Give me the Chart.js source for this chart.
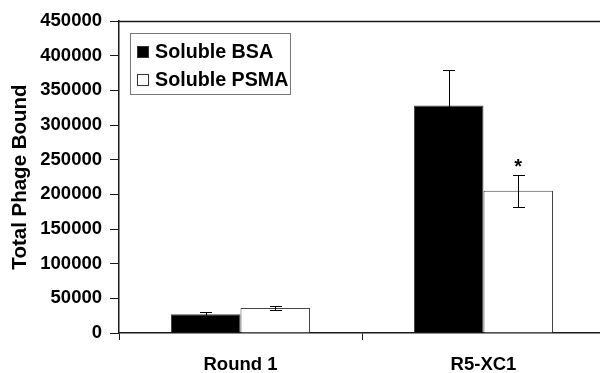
<!DOCTYPE html>
<html>
<head>
<meta charset="utf-8">
<script src="https://cdn.jsdelivr.net/npm/chart.js@4.4.1/dist/chart.umd.min.js"></script>
<style>
html,body{margin:0;padding:0;background:#fff;overflow:hidden;width:600px;height:373px;}
canvas{display:block;}
</style>
</head>
<body>
<canvas id="c" width="605" height="373"></canvas>
<script>
// ---- data ----
const categories = ['Round 1', 'R5-XC1'];
const seriesNames = ['Soluble BSA', 'Soluble PSMA'];
const bsaValues = [27000, 328000];
const bsaErrors = [3000, 52000];
const psmaValues = [36000, 205000];
const psmaErrors = [3500, 23500];
const psmaSignificant = [false, true];
const yTicks = [0, 50000, 100000, 150000, 200000, 250000, 300000, 350000, 400000, 450000];
const yTitle = 'Total Phage Bound';

const FONT = "'Liberation Sans', Arial, sans-serif";
const AXIS = '#1a1a1a';

const errorBarPlugin = {
  id: 'errorBars',
  afterDatasetsDraw(chart) {
    const ctx = chart.ctx;
    const y = chart.scales.y;
    chart.data.datasets.forEach((ds, di) => {
      const meta = chart.getDatasetMeta(di);
      meta.data.forEach((bar, i) => {
        const v = ds.data[i], e = ds.errors[i];
        const x = bar.x;
        const yTop = y.getPixelForValue(v + e);
        const yBot = y.getPixelForValue(v - e);
        ctx.save();
        ctx.strokeStyle = '#000';
        ctx.lineWidth = 1;
        ctx.beginPath();
        ctx.moveTo(Math.round(x) + 0.5, Math.round(yTop) + 0.5);
        ctx.lineTo(Math.round(x) + 0.5, Math.round(yBot) + 0.5);
        ctx.moveTo(Math.round(x - 5.5), Math.round(yTop) + 0.5);
        ctx.lineTo(Math.round(x + 5.5) + 1, Math.round(yTop) + 0.5);
        ctx.moveTo(Math.round(x - 5.5), Math.round(yBot) + 0.5);
        ctx.lineTo(Math.round(x + 5.5) + 1, Math.round(yBot) + 0.5);
        ctx.stroke();
        if (ds.significant && ds.significant[i]) {
          ctx.fillStyle = '#000';
          ctx.font = 'bold 20px ' + FONT;
          ctx.textAlign = 'center';
          ctx.textBaseline = 'middle';
          ctx.fillText('*', x, yTop - 7);
        }
        ctx.restore();
      });
    });
  }
};

const framePlugin = {
  id: 'frame',
  afterDraw(chart) {
    const ctx = chart.ctx, a = chart.chartArea;
    ctx.save();
    ctx.strokeStyle = AXIS;
    ctx.lineWidth = 1.5;
    ctx.beginPath();
    ctx.moveTo(a.left, a.top + 0.5);
    ctx.lineTo(chart.width, a.top + 0.5);
    ctx.stroke();
    // y title
    ctx.fillStyle = '#000';
    ctx.font = 'bold 20.5px ' + FONT;
    ctx.textAlign = 'center';
    ctx.textBaseline = 'middle';
    ctx.translate(20, (a.top + a.bottom) / 2);
    ctx.rotate(-Math.PI / 2);
    ctx.fillText(yTitle, 0, 0);
    ctx.restore();
    // legend
    ctx.save();
    ctx.strokeStyle = '#777';
    ctx.lineWidth = 1;
    ctx.fillStyle = '#fff';
    ctx.fillRect(130.5, 33.5, 160, 61);
    ctx.strokeRect(130.5, 33.5, 160, 61);
    chart.data.datasets.forEach((ds, i) => {
      const cy = 52 + i * 28;
      ctx.fillStyle = ds.backgroundColor;
      ctx.fillRect(137.5, cy - 5.5, 11, 11);
      ctx.strokeStyle = '#333';
      ctx.strokeRect(137.5, cy - 5.5, 11, 11);
      ctx.fillStyle = '#000';
      ctx.font = 'bold 19.7px ' + FONT;
      ctx.textAlign = 'left';
      ctx.textBaseline = 'middle';
      ctx.fillText(ds.label, 155, cy + 1);
    });
    ctx.restore();
  }
};

new Chart(document.getElementById('c'), {
  type: 'bar',
  data: {
    labels: categories,
    datasets: [
      { label: seriesNames[0], data: bsaValues, errors: bsaErrors, backgroundColor: '#000', borderColor: '#444', borderWidth: 1 },
      { label: seriesNames[1], data: psmaValues, errors: psmaErrors, significant: psmaSignificant, backgroundColor: '#fff', borderColor: '#444', borderWidth: 1 }
    ]
  },
  options: {
    responsive: false,
    animation: false,
    devicePixelRatio: 1,
    layout: { padding: { top: 21, right: 0, bottom: 0, left: 0 } },
    datasets: { bar: { categoryPercentage: 0.572, barPercentage: 1 } },
    plugins: { legend: { display: false }, tooltip: { enabled: false } },
    scales: {
      x: {
        offset: true,
        afterFit(s) { s.height = 40; },
        grid: { drawOnChartArea: false, offset: true, tickLength: 7, color: AXIS },
        border: { color: AXIS, width: 1.5 },
        ticks: { color: '#000', font: { family: FONT, size: 18.5, weight: 'bold' }, padding: 14 }
      },
      y: {
        min: 0, max: 450000,
        afterFit(s) { s.width = 119; },
        afterBuildTicks(s) { s.ticks = yTicks.map(v => ({ value: v })); },
        grid: { drawOnChartArea: false, tickLength: 9, color: AXIS },
        border: { color: AXIS, width: 1.5 },
        ticks: { color: '#000', font: { family: FONT, size: 18.5, weight: 'bold' }, padding: 8, callback: v => String(v) }
      }
    }
  },
  plugins: [errorBarPlugin, framePlugin]
});
</script>
</body>
</html>
